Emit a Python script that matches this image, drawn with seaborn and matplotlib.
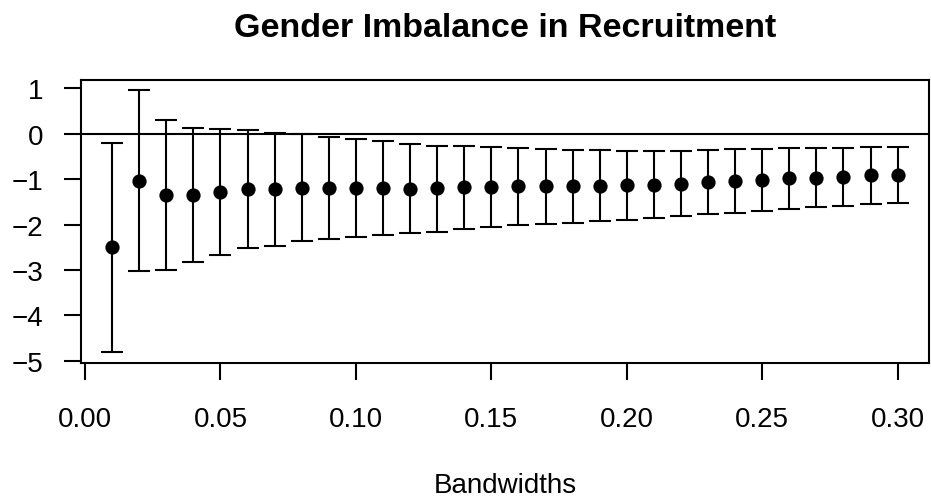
import numpy as np
import pandas as pd
import matplotlib
matplotlib.use("Agg")
import matplotlib.pyplot as plt
import seaborn as sns

# Estimated effect at each bandwidth with its confidence interval
bandwidths = [0.01, 0.02, 0.03, 0.04, 0.05, 0.06, 0.07, 0.08, 0.09, 0.10,
              0.11, 0.12, 0.13, 0.14, 0.15, 0.16, 0.17, 0.18, 0.19, 0.20,
              0.21, 0.22, 0.23, 0.24, 0.25, 0.26, 0.27, 0.28, 0.29, 0.30]
estimate = [-2.50, -1.035, -1.34, -1.34, -1.277, -1.218, -1.218, -1.19, -1.19, -1.193,
            -1.196, -1.218, -1.20, -1.18, -1.167, -1.16, -1.16, -1.152, -1.145, -1.135,
            -1.123, -1.108, -1.07, -1.042, -1.013, -0.983, -0.969, -0.947, -0.917, -0.903]
ci_upper = [-0.198, 0.96, 0.31, 0.13, 0.10, 0.08, 0.02, -0.015, -0.066, -0.12,
            -0.16, -0.234, -0.264, -0.278, -0.293, -0.315, -0.337, -0.352, -0.359, -0.374,
            -0.381, -0.381, -0.352, -0.345, -0.33, -0.323, -0.315, -0.308, -0.293, -0.286]
ci_lower = [-4.81, -3.02, -2.995, -2.82, -2.665, -2.52, -2.47, -2.37, -2.31, -2.27,
            -2.22, -2.19, -2.16, -2.10, -2.05, -2.01, -1.98, -1.96, -1.923, -1.894,
            -1.864, -1.82, -1.776, -1.74, -1.696, -1.659, -1.62, -1.586, -1.555, -1.526]
x_ticks = [0.00, 0.05, 0.10, 0.15, 0.20, 0.25, 0.30]
y_ticks = [1, 0, -1, -2, -3, -4, -5]

df = pd.DataFrame({"bandwidth": bandwidths, "estimate": estimate,
                   "lower": ci_lower, "upper": ci_upper})

sns.set_theme(style="ticks")
plt.rcParams["font.family"] = ["Liberation Sans", "DejaVu Sans"]
plt.rcParams["axes.linewidth"] = 1.5

fig = plt.figure(figsize=(9.31, 5.02), dpi=100)
ax = fig.add_axes([0.0867, 0.2749, 0.9112, 0.5643])

lw = 1.5
ax.axhline(0, color="black", lw=lw, zorder=1)
ax.errorbar(df["bandwidth"], df["estimate"],
            yerr=[df["estimate"] - df["lower"], df["upper"] - df["estimate"]],
            fmt="none", ecolor="black", elinewidth=lw, capsize=7.9, capthick=lw,
            zorder=2)
sns.scatterplot(data=df, x="bandwidth", y="estimate", ax=ax, color="black",
                s=105, edgecolor="black", linewidth=0, zorder=3, legend=False)

ax.set_xlim(-0.0016, 0.3116)
ax.set_ylim(-5.05, 1.189)
ax.set_xticks(x_ticks)
ax.set_xticklabels([f"{v:.2f}" for v in x_ticks])
ax.set_yticks(y_ticks)
ax.set_yticklabels([("\u2212" if v < 0 else "") + str(abs(v)) for v in y_ticks])
ax.tick_params(axis="both", length=12.2, width=lw, color="black",
               labelsize=20, labelcolor="black")
ax.tick_params(axis="x", pad=19)
ax.tick_params(axis="y", pad=14.5)
for side in ["left", "right", "top", "bottom"]:
    ax.spines[side].set_visible(True)
    ax.spines[side].set_color("black")
    ax.spines[side].set_linewidth(lw)

ax.set_ylabel("")
ax.set_xlabel("Bandwidths", fontsize=20, color="black", va="baseline")
ax.xaxis.set_label_coords(0.5, -0.4564)
ax.set_title("Gender Imbalance in Recruitment", fontsize=24.5,
             fontweight="bold", color="black", va="baseline", y=1.153, pad=0)

fig.savefig("out.png", dpi=100, facecolor="white")
